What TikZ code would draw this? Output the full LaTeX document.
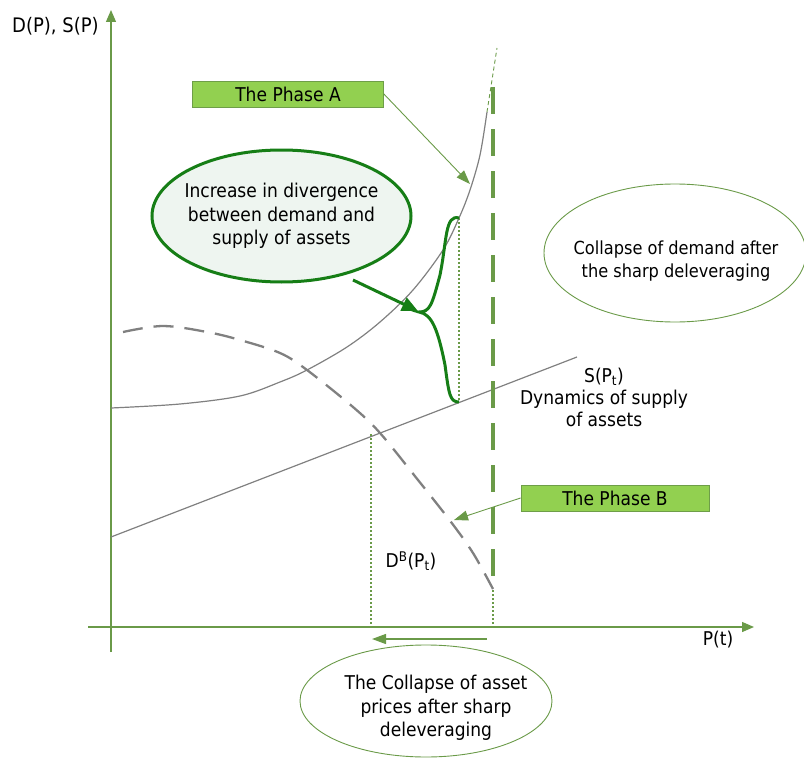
\documentclass[tikz,border=0pt]{standalone}
\usepackage{fontspec}
\setmainfont{DejaVu Sans}[FakeStretch=0.9]
\usetikzlibrary{arrows.meta,shapes.geometric}
\definecolor{axisg}{HTML}{6A9A48}
\definecolor{darkg}{HTML}{167E16}
\definecolor{boxg}{HTML}{92D050}
\definecolor{boxb}{HTML}{6E9E48}
\definecolor{curveg}{HTML}{808080}
\definecolor{ellfill}{HTML}{EEF5F0}
\tikzset{
  axisline/.style={axisg, line width=1.3pt, -{Triangle[length=12pt,width=10pt]}},
  phasebox/.style={draw=boxb, fill=boxg, line width=0.8pt, minimum width=191pt, minimum height=26pt, inner sep=0pt, font=\fontsize{19}{22}\selectfont},
  thinell/.style={ellipse, draw=axisg, line width=0.9pt, inner sep=0pt},
  elltext/.style={align=center, inner sep=0pt, font=\fontsize{19}{23.5}\selectfont},
  dotv/.style={axisg, line width=2pt, dash pattern=on 2pt off 2pt},
  label/.style={align=center, inner sep=0pt, font=\fontsize{19}{22}\selectfont},
}
\begin{document}
\begin{tikzpicture}[x=1pt,y=-1pt]
\useasboundingbox (0,0) rectangle (804,760);
% axes
\coordinate (yb) at (111,652);
\coordinate (yt) at (111,10);
\coordinate (xl) at (88,627);
\coordinate (xr) at (754,627);
\draw[axisline] (yb) -- (yt);
\draw[axisline] (xl) -- (xr);
\node[label, anchor=west, font=\fontsize{20}{22}\selectfont] (ylab) at (12,26) {D(P), S(P)};
\node[label] (xlab) at (718,640) {P(t)};
% supply line
\coordinate (s1) at (111,537);
\coordinate (s2) at (577,357);
\draw[curveg, line width=1.2pt] (s1) -- (s2);
% dotted verticals
\coordinate (d1t) at (371,434);
\coordinate (d1b) at (371,627);
\draw[dotv] (d1t) -- (d1b);
\coordinate (d2t) at (459,218);
\coordinate (d2b) at (459,402);
\draw[dotv] (d2t) -- (d2b);
\coordinate (d3t) at (493,590);
\coordinate (d3b) at (493,627);
\draw[dotv] (d3t) -- (d3b);
% thick dashed vertical
\coordinate (vt) at (493,87);
\coordinate (vb) at (493,590);
\draw[axisg, line width=4pt, dash pattern=on 27pt off 15pt] (vt) -- (vb);
% demand curve (solid)
\draw[curveg, line width=1.2pt] plot[smooth, tension=0.55] coordinates {(111,408) (180,404) (240,396) (280,382) (307,370) (347,347) (380,322) (413,290) (443,250) (459,218) (470,190) (480,155) (487,112)};
\coordinate (dc1) at (487,112);
\coordinate (dc2) at (497,48);
\draw[axisg, line width=0.9pt, dash pattern=on 4pt off 3pt] (dc1) -- (dc2);
% demand curve (dashed)
\draw[curveg, line width=2.3pt, dash pattern=on 20pt off 11pt] plot[smooth, tension=0.55] coordinates {(123,332) (163,326) (207,332) (240,340) (280,353) (307,370) (353,407) (380,433) (418,480) (451,522) (473,553) (493,589)};
% brace
\draw[darkg, line width=3pt] (d2t) .. controls (445,214) and (447,240) .. (440,275) .. controls (432,305) and (430,312) .. (419,312) .. controls (432,314) and (438,330) .. (445,365) .. controls (449,395) and (450,402) .. (d2b);
% ellipse with fill
\node[ellipse, draw=darkg, fill=ellfill, line width=3pt, minimum width=259pt, minimum height=132pt, inner sep=0pt] (inc) at (281.5,216) {};
\node[elltext] (inctext) at (inc.center) {Increase in divergence\\between demand and\\supply of assets};
\coordinate (btip) at (418,311);
\coordinate (bstart) at (353,280);
\draw[darkg, line width=3pt, -{Triangle[length=16pt,width=14pt]}] (bstart) -- (btip);
% thin ellipses
\node[thinell, minimum width=262pt, minimum height=138pt] (cd) at (675,253) {};
\node[elltext, font=\fontsize{18}{23}\selectfont] (cdtext) at (676,261) {Collapse of demand after\\the sharp deleveraging};
\node[thinell, minimum width=252pt, minimum height=112pt] (cap) at (426,701) {};
\node[elltext] (captext) at (436,708) {The Collapse of asset\\prices after sharp\\deleveraging};
% phase boxes
\node[phasebox] (pa) at (288,94) {The Phase A};
\node[phasebox, minimum width=188pt] (pb) at (615,498) {The Phase B};
\coordinate (pat) at (470,184);
\draw[axisg, line width=0.9pt, -{Triangle[length=14pt,width=10pt]}] (pa.east) -- (pat);
\coordinate (pbt) at (454,520);
\draw[axisg, line width=0.9pt, -{Triangle[length=14pt,width=10pt]}] (pb.west) -- (pbt);
% bottom arrow
\coordinate (ba1) at (487,639);
\coordinate (ba2) at (372,639);
\draw[axisg, line width=1.3pt, -{Triangle[length=14pt,width=10pt]}] (ba1) -- (ba2);
% labels
\node[label] (slab) at (604,397) {S(P\textsubscript{t})\\Dynamics of supply\\of assets};
\node[label] (dlab) at (411,561) {D\textsuperscript{B}(P\textsubscript{t})};
\end{tikzpicture}
\end{document}
